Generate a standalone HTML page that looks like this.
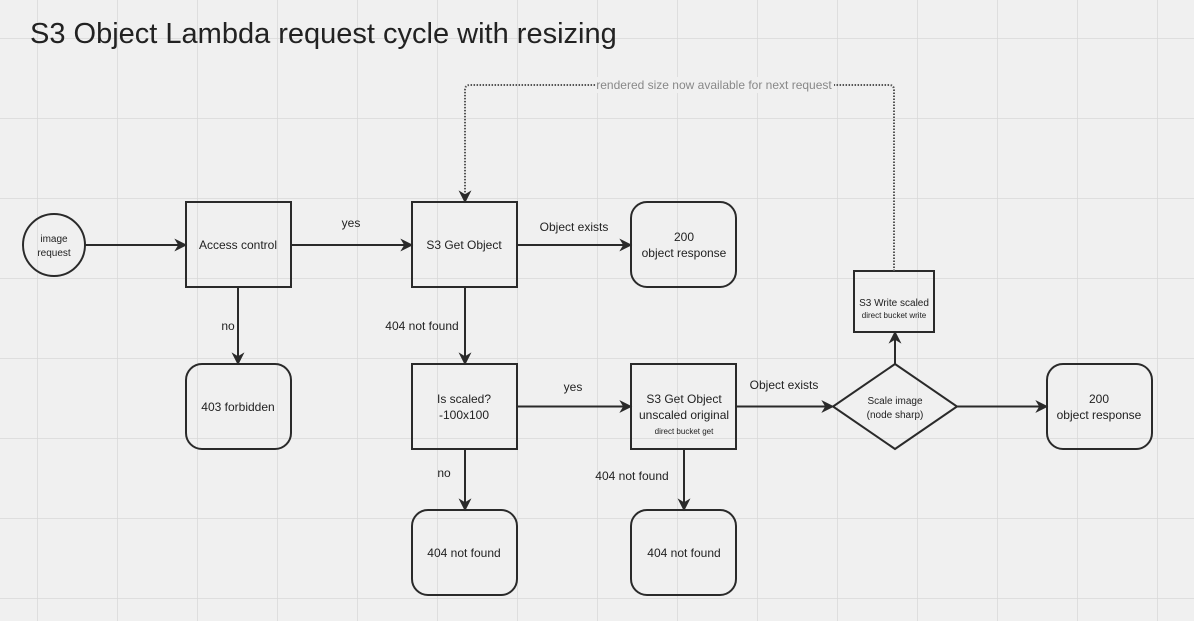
<!DOCTYPE html>
<html><head><meta charset="utf-8"><style>
html,body{margin:0;padding:0;background:#f0f0f0;}
svg{display:block;font-family:"Liberation Sans",sans-serif;}
</style></head><body>
<svg width="1194" height="621" viewBox="0 0 1194 621" xmlns="http://www.w3.org/2000/svg">
<defs>
<pattern id="g" x="37" y="38" width="80" height="80" patternUnits="userSpaceOnUse">
<path d="M0 0H80M0 0V80" stroke="#d8d8d8" stroke-width="1.5" fill="none"/>
</pattern>
<marker id="b" viewBox="0 0 10 10" refX="9" refY="5" markerWidth="13" markerHeight="13" markerUnits="userSpaceOnUse" orient="auto">
<path d="M0 0L10 5L0 10L3 5Z" fill="#2a2a2a"/>
</marker>
</defs>
<rect width="1194" height="621" fill="#f0f0f0"/>
<rect width="1194" height="621" fill="url(#g)"/>
<text x="30" y="43" font-size="29" fill="#222">S3 Object Lambda request cycle with resizing</text>

<g stroke="#2a2a2a" stroke-width="2" fill="none">
<circle cx="54" cy="245" r="31"/>
<rect x="186" y="202" width="105" height="85"/>
<rect x="412" y="202" width="105" height="85"/>
<rect x="631" y="202" width="105" height="85" rx="16"/>
<rect x="186" y="364" width="105" height="85" rx="16"/>
<rect x="412" y="364" width="105" height="85"/>
<rect x="631" y="364" width="105" height="85"/>
<path d="M895 364L957 406.5L895 449L833 406.5Z"/>
<rect x="1047" y="364" width="105" height="85" rx="16"/>
<rect x="854" y="271" width="80" height="61"/>
<rect x="412" y="510" width="105" height="85" rx="16"/>
<rect x="631" y="510" width="105" height="85" rx="16"/>
</g>

<g stroke="#2a2a2a" stroke-width="2" fill="none" marker-end="url(#b)">
<path d="M85 245H186"/>
<path d="M291 245H412"/>
<path d="M517 245H631"/>
<path d="M238 287V364"/>
<path d="M465 287V364"/>
<path d="M517 406.5H631"/>
<path d="M736 406.5H833"/>
<path d="M957 406.5H1047"/>
<path d="M465 449V510"/>
<path d="M684 449V510"/>
<path d="M895 364V332"/>
</g>
<path d="M894 271V90Q894 85 889 85H470Q465 85 465 90V202" stroke="#555" stroke-width="2" stroke-dasharray="1.5 1.5" fill="none" marker-end="url(#b)"/>
<rect x="596" y="77" width="238" height="16" fill="#f0f0f0"/>
<text x="714" y="89" font-size="12" fill="#888" text-anchor="middle">rendered size now available for next request</text>

<g font-size="12" fill="#222" text-anchor="middle">
<text x="54" y="242" font-size="10">image</text>
<text x="54" y="256" font-size="10">request</text>
<text x="238" y="249">Access control</text>
<text x="464" y="249">S3 Get Object</text>
<text x="684" y="241">200</text>
<text x="684" y="257">object response</text>
<text x="238" y="411">403 forbidden</text>
<text x="464" y="403">Is scaled?</text>
<text x="464" y="419">-100x100</text>
<text x="684" y="403">S3 Get Object</text>
<text x="684" y="419">unscaled original</text>
<text x="684" y="434" font-size="8">direct bucket get</text>
<text x="895" y="404" font-size="10">Scale image</text>
<text x="895" y="418" font-size="10">(node sharp)</text>
<text x="1099" y="403">200</text>
<text x="1099" y="419">object response</text>
<text x="894" y="306" font-size="10">S3 Write scaled</text>
<text x="894" y="318" font-size="8">direct bucket write</text>
<text x="464" y="557">404 not found</text>
<text x="684" y="557">404 not found</text>
<text x="351" y="227">yes</text>
<text x="574" y="231">Object exists</text>
<text x="228" y="330">no</text>
<text x="422" y="330">404 not found</text>
<text x="573" y="391">yes</text>
<text x="784" y="389">Object exists</text>
<text x="444" y="477">no</text>
<text x="632" y="480">404 not found</text>
</g>
</svg>
</body></html>
